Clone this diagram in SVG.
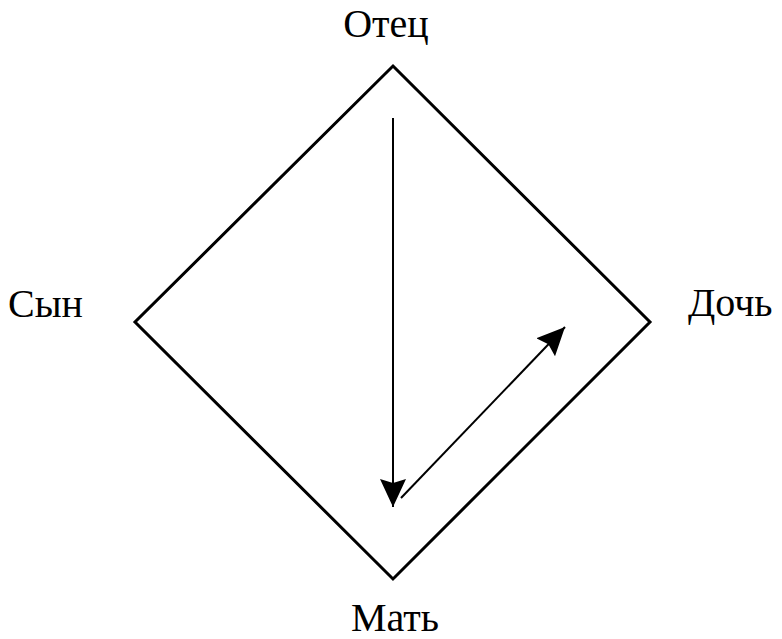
<svg xmlns="http://www.w3.org/2000/svg" width="782" height="639" viewBox="0 0 782 639">
<style>
.lbl{font-family:"Times New Roman","Liberation Serif",Times,serif;font-size:40px;fill:#000}
.edge{stroke:#000;fill:none}
</style>
<defs>
<marker id="ah" markerWidth="30" markerHeight="30" refX="28" refY="15" orient="auto" markerUnits="userSpaceOnUse">
<path d="M0,2 L28,15 L0,28 L4,15 Z" fill="#000"/>
</marker>
</defs>
<rect width="782" height="639" fill="#fff"/>
<g id="diamond">
<polygon points="393,66 650,322 393,579 135,322" fill="none" stroke="#000" stroke-width="3"/>
</g>
<g id="otec"><text class="lbl" x="386" y="37" text-anchor="middle">Отец</text></g>
<g id="syn"><text class="lbl" x="8" y="317">Сын</text></g>
<g id="doch"><text class="lbl" x="688" y="316">Дочь</text></g>
<g id="mat"><text class="lbl" x="395" y="631" text-anchor="middle">Мать</text></g>
<g id="connectors">
<line class="edge" x1="393" y1="118" x2="393" y2="507" stroke-width="2" marker-end="url(#ah)"/>
<line class="edge" x1="401" y1="498" x2="565" y2="327" stroke-width="2" marker-end="url(#ah)"/>
</g>
</svg>
